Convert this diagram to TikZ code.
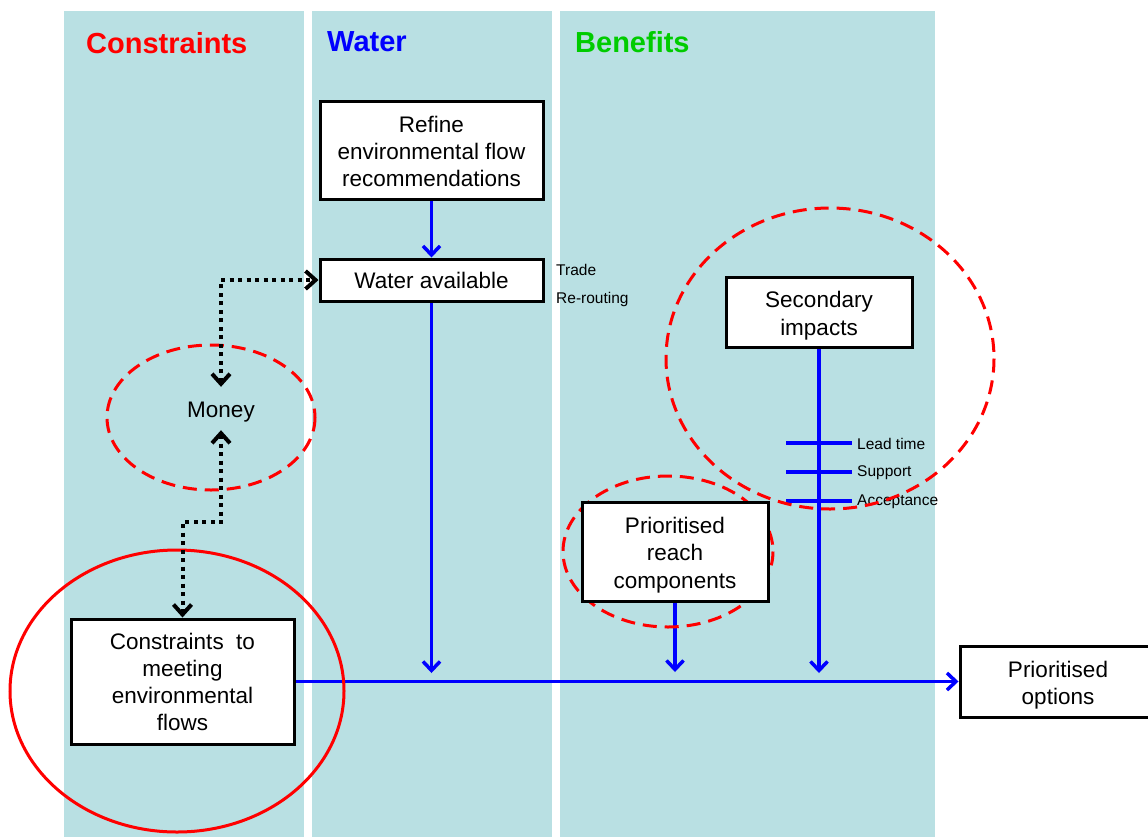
\documentclass[tikz,border=0pt]{standalone}
\usepackage{fontspec}
\setmainfont{Liberation Sans}
\usetikzlibrary{arrows.meta}
\definecolor{colbg}{RGB}{185,224,227}
\definecolor{hred}{RGB}{255,0,0}
\definecolor{hblue}{RGB}{0,0,255}
\definecolor{hgreen}{RGB}{0,204,0}
\pgfdeclarelayer{bg}
\pgfdeclarelayer{mid}
\pgfsetlayers{bg,mid,main}
\newcommand{\bxt}[2][1pt]{\raisebox{-#1}[\height][\depth]{\begin{tabular}{@{}c@{}}#2\end{tabular}}}
\tikzset{
  col/.style={fill=colbg,draw=none},
  box/.style={draw=black,fill=white,line width=3pt,inner sep=0pt,
    font=\fontsize{22.5}{27.2}\selectfont},
  bflow/.style={draw=hblue,line width=3.5pt,-{Straight Barb[length=9pt,width=17pt]}},
  bbar/.style={draw=hblue,line width=4pt},
  dotlink/.style={draw=black,line width=4pt,dash pattern=on 4pt off 4.5pt,
    {Straight Barb[length=10pt,width=18pt]}-{Straight Barb[length=10pt,width=18pt]}},
  dring/.style={draw=hred,line width=3pt,dash pattern=on 14pt off 8pt},
  sring/.style={draw=hred,line width=3pt},
  small/.style={font=\fontsize{15.5}{18}\selectfont,inner sep=0pt,anchor=west},
  head/.style={font=\fontsize{29}{34}\selectfont\bfseries,inner sep=0pt,anchor=west},
}
\begin{document}
\begin{tikzpicture}[x=1pt,y=-1pt]
\useasboundingbox (0,0) rectangle (1148,836);
% boxes (main layer, on top)
\path
  (431.5,150) node[box,minimum width=223,minimum height=98] (refine) {\bxt[4pt]{Refine\\environmental flow\\recommendations}}
  (431.5,280) node[box,minimum width=223,minimum height=42] (water) {\bxt[3.5pt]{Water available}}
  (819,312) node[box,minimum width=186,minimum height=70] (sec) {\bxt[4pt]{Secondary\\impacts}}
  (675,551.5) node[box,minimum width=186,minimum height=99] (reach) {\bxt[4pt]{Prioritised\\reach\\components}}
  (182.5,681.5) node[box,minimum width=223,minimum height=125] (cons) {\bxt[3pt]{Constraints~ to\\meeting\\environmental\\flows}}
  (1058,681.5) node[box,minimum width=196,minimum height=71] (opt) {\bxt[4pt]{Prioritised\\options}};
\node[font=\fontsize{22.5}{27}\selectfont,minimum height=43,inner sep=0pt] (money) at (221,408.5) {\raisebox{-4pt}[\height][\depth]{Money}};
% headings
\node[head,text=hred] (hc) at (86,43.5) {Constraints};
\node[head,text=hblue] (hw) at (327,42) {Water};
\node[head,text=hgreen] (hb) at (575,42) {Benefits};
\begin{pgfonlayer}{bg}
\fill[col] (64,11) rectangle (304,840);
\fill[col] (312,11) rectangle (552,840);
\fill[col] (560,11) rectangle (935,840);
\end{pgfonlayer}
\begin{pgfonlayer}{mid}
\coordinate (j1) at (431.5,673);
\coordinate (j2) at (675,672);
\coordinate (j3) at (819,673);
\draw[bflow] (refine.south) -- (water.north);
\draw[bflow] (water.south) -- (j1);
\draw[bflow] (reach.south) -- (j2);
\draw[bflow] (sec.south) -- (j3);
\draw[bflow] (cons.east) -- (opt.west);
\coordinate (b1l) at (786,442.5); \coordinate (b1r) at (852,442.5);
\coordinate (b2l) at (786,471.5); \coordinate (b2r) at (852,471.5);
\coordinate (b3l) at (786,500.5); \coordinate (b3r) at (852,500.5);
\draw[bbar] (b1l) -- (b1r);
\draw[bbar] (b2l) -- (b2r);
\draw[bbar] (b3l) -- (b3r);
\node[small] (lt) at (857,443.5) {Lead time};
\node[small] (sp) at (857,473) {Support};
\node[small] (ac) at (857,502) {Acceptance};
\node[small] (tr) at (556,269.5) {Trade};
\node[small] (rr) at (556,299.5) {Re-routing};
\draw[dring] (211,417.5) ellipse [x radius=104, y radius=72.5];
\draw[dring] (830,358.5) ellipse [x radius=164, y radius=150.5];
\draw[dring] (668,551.5) ellipse [x radius=105, y radius=75.5];
\draw[sring] (177,691) ellipse [x radius=167, y radius=141];
\draw[dotlink] (money.north) |- (water.west);
\draw[dotlink] (money.south) -- ++(0,92) -| (cons.north);
\end{pgfonlayer}
\end{tikzpicture}
\end{document}
